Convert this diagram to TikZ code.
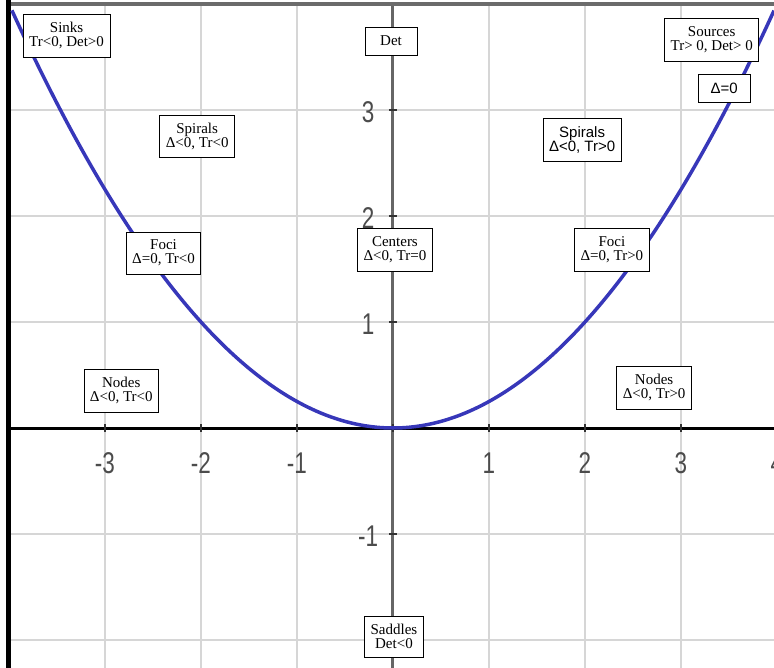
\documentclass[tikz,border=0pt]{standalone}
\usepackage{graphicx}
\usepackage{fontspec}
\setmainfont{Liberation Serif}
\setsansfont{Liberation Sans}
\definecolor{curveblue}{RGB}{55,55,185}
\definecolor{gridgray}{RGB}{214,214,214}
\newcommand{\tlbl}[1]{\scalebox{0.75}[1]{#1}}
\tikzset{
    box/.style={
        draw,
        fill=white,
        line width=0.9pt,
        align=center,
        inner xsep=6pt,
        inner ysep=8pt,
        minimum width=52pt,
        minimum height=28pt,
        font=\fontsize{15}{14}\selectfont
    },
    sansbox/.style={
        box,
        font=\fontsize{15}{14}\selectfont\sffamily
    },
    gridline/.style={draw=gridgray, line width=2pt},
    xaxis/.style={draw=black, line width=3pt},
    yaxis/.style={draw=black!60, line width=3pt},
    frametop/.style={draw=black!58, line width=4pt},
    frameleft/.style={draw=black, line width=5pt},
    tickmark/.style={draw=black!80, line width=2pt},
    ticklbl/.style={
        text=black!70,
        inner sep=0pt,
        font=\fontsize{30}{30}\selectfont\sffamily
    },
    curve/.style={draw=curveblue, line width=3.5pt}
}
\begin{document}
\begin{tikzpicture}[x=96pt, y=106pt]
\useasboundingbox (-393pt,-239pt) rectangle (381pt,428pt);

% grid, axes and frame
\foreach \t in {-3,...,3}
    \draw[gridline] (\t,-2.3) -- (\t,4);
\foreach \t in {-2,...,3}
    \draw[gridline] (-4,\t) -- (4.2,\t);
\draw[yaxis] (0,-2.3) -- (0,4);
\draw[xaxis] (-4,0) -- (4.2,0);
\draw[frametop] (-4,4) -- (4.2,4);
\draw[frameleft] (-4,4.05) -- (-4,-2.3);
\foreach \t in {-3,...,4}
    \draw[tickmark] (\t,0) ++(0,-4pt) -- ++(0,8pt);
\foreach \t in {-2,...,3}
    \draw[tickmark] (0,\t) ++(-4pt,0) -- ++(8pt,0);

\foreach \t in {-3,-2,-1,1,2,3,4}
    \node[ticklbl] (xl\t) at (\t,-0.33) {\tlbl{\t}};
\foreach \t in {-1,1,2,3}
    \node[ticklbl] (yl\t) at (-0.26,\t-0.02) {\tlbl{\t}};

% Det = Tr^2/4
\draw[curve] plot[domain=-3.97:3.97, samples=120, smooth] (\x, {\x*\x/4});

\node[box] (sinks) at (-3.40,3.70) {Sinks\\Tr<0, Det>0};
\node[box] (det) at (-0.02,3.65) {Det};
\node[box] (sources) at (3.32,3.66) {Sources\\Tr> 0, Det> 0};
\node[sansbox] (disc) at (3.45,3.20) {Δ=0};
\node[box] (spiralsL) at (-2.04,2.75) {Spirals\\Δ<0, Tr<0};
\node[sansbox] (spiralsR) at (1.97,2.72) {Spirals\\Δ<0, Tr>0};
\node[box] (fociL) at (-2.39,1.65) {Foci\\Δ=0, Tr<0};
\node[box] (centers) at (0.02,1.68) {Centers\\Δ<0, Tr=0};
\node[box] (fociR) at (2.28,1.68) {Foci\\Δ=0, Tr>0};
\node[box] (nodesL) at (-2.83,0.35) {Nodes\\Δ<0, Tr<0};
\node[box] (nodesR) at (2.72,0.38) {Nodes\\Δ<0, Tr>0};
\node[box] (saddles) at (0.01,-1.97) {Saddles\\Det<0};

\end{tikzpicture}
\end{document}
